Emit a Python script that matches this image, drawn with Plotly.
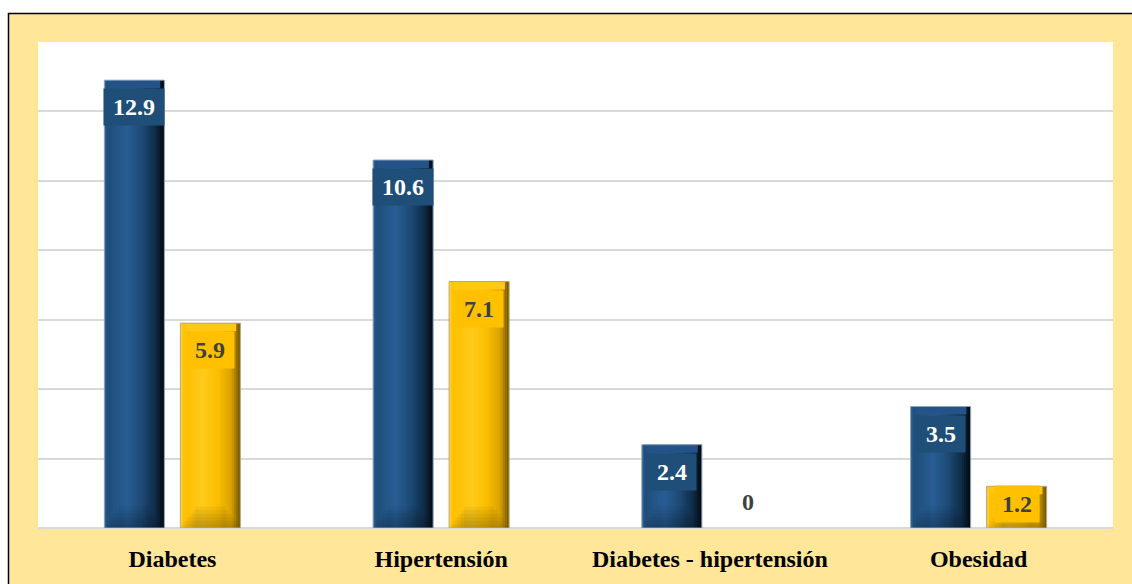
import plotly.graph_objects as go

# Data
categories = ["Diabetes", "Hipertensión", "Diabetes - hipertensión", "Obesidad"]
serie_azul = [12.9, 10.6, 2.4, 3.5]
serie_oro = [5.9, 7.1, 0, 1.2]

# Styles
FONT = "Liberation Serif"
BLUE_FLAT = "#1F4E79"
GOLD_FLAT = "#FFC000"
# colour stops across the bar width (position 0..1, colour)
blue_stops = [(0.0, "#2E6196"), (0.06, "#1F4E79"), (0.38, "#285D94"),
              (0.62, "#1E4B76"), (0.85, "#0F2C48"), (1.0, "#02080F")]
gold_stops = [(0.0, "#FFD64A"), (0.06, "#FFC000"), (0.38, "#FFCA1A"),
              (0.62, "#FCBF00"), (0.85, "#D9A200"), (1.0, "#6E5200")]

Y_MAX, Y_STEP = 14, 2
BAR_W = 0.2233         # bar width in category units
SERIES_SHIFT = 0.1414  # distance of each bar centre from the category centre
N_STRIPS = 28

# Plot area geometry (pixels)
W, H = 1132, 584
ML, MR, MT, MB = 38, 19, 42, 54
plot_h = H - MT - MB
plot_w = W - ML - MR
px_per_unit = plot_h / Y_MAX

fig = go.Figure()


def hex_to_rgb(h):
    h = h.lstrip("#")
    return tuple(int(h[i:i + 2], 16) for i in (0, 2, 4))


def gradient(stops, n):
    cols = []
    for i in range(n):
        t = (i + 0.5) / n
        for (p0, c0), (p1, c1) in zip(stops, stops[1:]):
            if p0 <= t <= p1:
                f = (t - p0) / (p1 - p0)
                a, b = hex_to_rgb(c0), hex_to_rgb(c1)
                rgb = [round(a[k] + (b[k] - a[k]) * f) for k in range(3)]
                cols.append("rgb({},{},{})".format(*rgb))
                break
    return cols


def add_beveled_bars(values, center_shift, stops, line_color, top_tint):
    """Draws one series as overlaid vertical strips forming a horizontal gradient."""
    left = center_shift - BAR_W / 2
    grad = gradient(stops, N_STRIPS)
    sw = BAR_W / N_STRIPS
    for i, col in enumerate(grad):
        w = sw * 1.6 if i < N_STRIPS - 1 else sw
        fig.add_trace(go.Bar(
            x=categories, y=values, width=w, offset=left + i * sw,
            marker=dict(color=col, line=dict(width=0)),
            hoverinfo="skip", showlegend=False,
        ))
    # flat bevelled cap along the top edge
    cap = 8 / px_per_unit
    cap_w = BAR_W * 0.86
    fig.add_trace(go.Bar(
        x=categories, y=[min(v, cap) for v in values],
        base=[max(v - cap, 0) for v in values],
        width=cap_w, offset=center_shift - cap_w / 2,
        marker=dict(color=top_tint, line=dict(width=0)),
        hoverinfo="skip", showlegend=False,
    ))
    # soft darker bevel at the foot of each bar (stepped trapezoid)
    for k in range(6):
        frac = 1.0 - 0.1 * k
        fw = BAR_W * frac
        fig.add_trace(go.Bar(
            x=categories, y=[min(v, 0.62 * (k + 1) / 6) for v in values],
            width=fw, offset=center_shift - fw / 2,
            marker=dict(color="rgba(0,0,0,0.045)", line=dict(width=0)),
            hoverinfo="skip", showlegend=False,
        ))
    # thin outline around each bar
    fig.add_trace(go.Bar(
        x=categories, y=values, width=BAR_W, offset=left,
        marker=dict(color="rgba(0,0,0,0)",
                    line=dict(color=line_color,
                              width=[0 if v == 0 else 1 for v in values])),
        hoverinfo="skip", showlegend=False,
    ))


add_beveled_bars(serie_azul, -SERIES_SHIFT, blue_stops, "#8FA3B8", "#24538A")
add_beveled_bars(serie_oro, SERIES_SHIFT, gold_stops, "#B8A878", "#FFC812")

FONT_SIZE = 24
annotations = []


def text_width(s):
    # approximate advance of bold serif digits / point
    return sum(0.25 if ch == "." else 0.5 for ch in s) * FONT_SIZE


def add_labels(values, center_shift, bg, color):
    for i, v in enumerate(values):
        txt = f"{v:g}"
        common = dict(x=i + center_shift, xref="x", yref="y", showarrow=False,
                      text=f"<b>{txt}</b>",
                      font=dict(family=FONT, size=FONT_SIZE, color=color))
        if v == 0:
            annotations.append(dict(y=0, yanchor="bottom", yshift=6,
                                    borderpad=6, **common))
        elif v * px_per_unit < 54:
            annotations.append(dict(y=v / 2, yanchor="middle", yshift=3,
                                    borderpad=3, width=text_width(txt) + 8,
                                    height=30, bgcolor=bg, **common))
        else:
            annotations.append(dict(y=v, yanchor="top", yshift=-8,
                                    borderpad=3, width=text_width(txt) + 12,
                                    height=30, bgcolor=bg, **common))


add_labels(serie_azul, -SERIES_SHIFT, BLUE_FLAT, "white")
add_labels(serie_oro, SERIES_SHIFT, GOLD_FLAT, "#404040")

# yellow framed panel behind everything, then the white plotting area
frame = dict(
    type="rect", xref="paper", yref="paper", layer="below",
    x0=(8.5 - ML) / plot_w, x1=(W + 20 - ML) / plot_w,
    y0=-(MB + 20) / plot_h, y1=(plot_h + MT - 13.5) / plot_h,
    fillcolor="#FFE699", line=dict(color="#000000", width=1.5),
)
plot_panel = dict(
    type="rect", xref="paper", yref="paper", layer="below",
    x0=0, x1=1, y0=0, y1=1, fillcolor="white", line=dict(width=0),
)

fig.update_layout(
    width=W, height=H,
    margin=dict(l=ML, r=MR, t=MT, b=MB),
    paper_bgcolor="white", plot_bgcolor="white",
    barmode="overlay", showlegend=False,
    shapes=[frame, plot_panel], annotations=annotations,
    xaxis=dict(
        type="category", categoryarray=categories, range=[-0.5, 3.5],
        showgrid=False, zeroline=False, showline=False, ticks="",
        ticklabelstandoff=14,
        tickfont=dict(family=FONT, size=FONT_SIZE, color="black"),
        tickvals=categories, ticktext=[f"<b>{c}</b>" for c in categories],
    ),
    yaxis=dict(
        range=[0, Y_MAX], dtick=Y_STEP, showticklabels=False,
        showgrid=True, gridcolor="#D9D9D9", gridwidth=1.5,
        zeroline=True, zerolinecolor="#D9D9D9", zerolinewidth=1.5,
        showline=False, ticks="",
    ),
)

fig.write_html("out.html")
